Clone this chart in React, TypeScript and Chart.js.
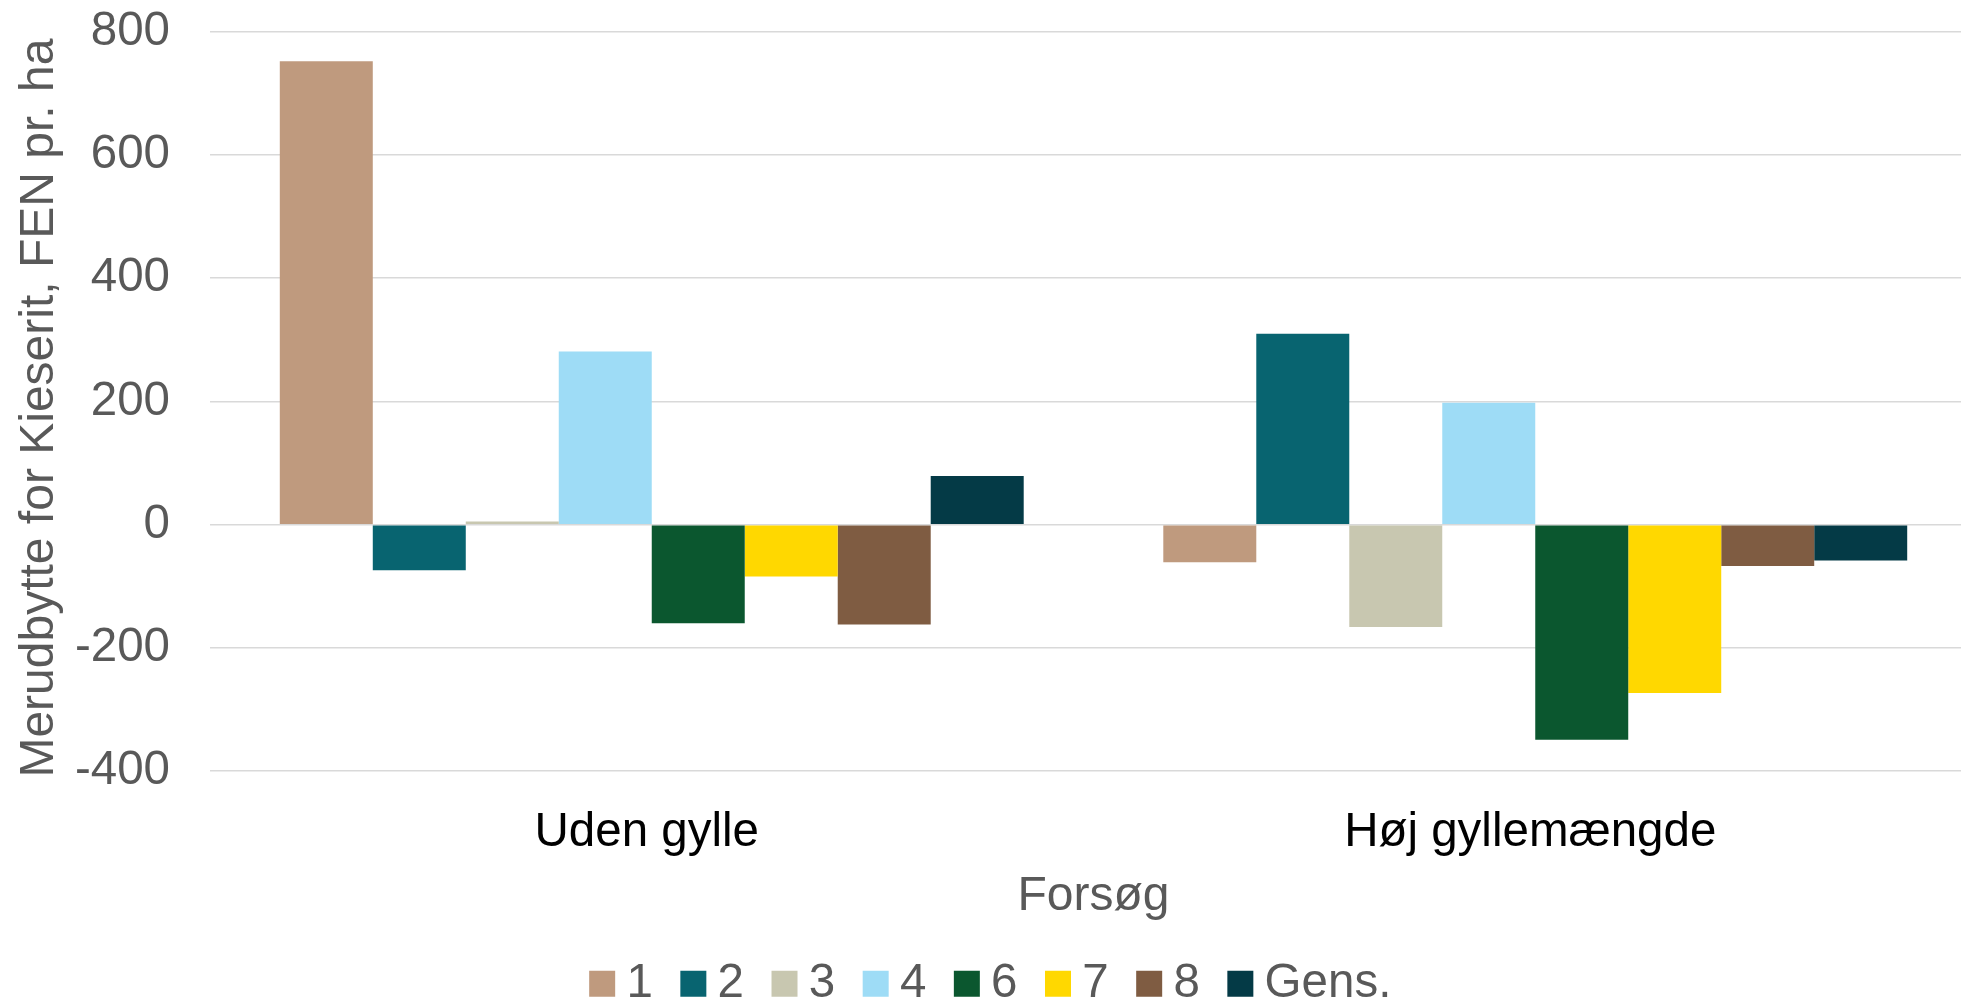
import React, { useEffect, useRef } from "react";
import { Chart, registerables } from "chart.js";

Chart.register(...registerables);

const categories = ["Uden gylle", "Høj gyllemængde"];
const seriesNames = ["1", "2", "3", "4", "6", "7", "8", "Gens."];
const series1 = [752, -61];
const series2 = [-74, 310];
const series3 = [5, -166];
const series4 = [281, 198];
const series6 = [-160, -349];
const series7 = [-84, -273];
const series8 = [-162, -67];
const seriesGens = [79, -58];
const seriesColors = ["#BF9A7E", "#086470", "#C8C7B0", "#9EDCF6", "#0B572F", "#FFD800", "#7F5C42", "#043A46"];
const yTicks = [-400, -200, 0, 200, 400, 600, 800];
const yTitle = "Merudbytte for Kieserit, FEN pr. ha ";
const xTitle = "Forsøg";

const FONT = "'Liberation Sans', Arial, sans-serif";
const CANVAS_W = 1977;
const CANVAS_H = 1004;

export default function App() {
  const ref = useRef<HTMLCanvasElement | null>(null);
  useEffect(() => {
    if (!ref.current) return;
    const values = [series1, series2, series3, series4, series6, series7, series8, seriesGens];
    const shiftLegend = {
      id: "shiftLegend",
      afterLayout(chart: any) {
        if (chart.legend) {
          chart.legend.left += 8;
          chart.legend.right += 8;
        }
      },
    };
    const chart = new Chart(ref.current, {
      type: "bar",
      data: {
        labels: categories,
        datasets: seriesNames.map((name, i) => ({
          label: name,
          data: values[i],
          backgroundColor: seriesColors[i],
          borderWidth: 0,
          categoryPercentage: 0.842,
          barPercentage: 1,
        })),
      },
      options: {
        animation: false,
        responsive: false,
        devicePixelRatio: 1,
        layout: { padding: { top: 31.7, left: 0, right: 0, bottom: 0 } },
        plugins: {
          tooltip: { enabled: false },
          legend: {
            position: "bottom",
            maxHeight: 84,
            labels: {
              usePointStyle: true,
              pointStyle: "rect",
              boxWidth: 1,
              boxHeight: 26,
              padding: 40,
              color: "#595959",
              font: { family: FONT, size: 47.5 },
            },
          },
        },
        scales: {
          x: {
            type: "category",
            offset: true,
            grid: { display: false, drawTicks: false },
            border: { display: false },
            ticks: { color: "#000000", padding: 33, labelOffset: -5, font: { family: FONT, size: 47.5 } },
            title: {
              display: true,
              text: xTitle,
              color: "#595959",
              padding: { top: 0, bottom: -6 },
              font: { family: FONT, size: 48 },
            },
            afterFit: (s: any) => {
              s.height = 148.8;
            },
          },
          y: {
            min: -400,
            max: 800,
            afterBuildTicks: (s: any) => {
              s.ticks = yTicks.map((v) => ({ value: v }));
            },
            grid: { color: "#D9D9D9", lineWidth: 1.5, drawTicks: false },
            border: { display: false },
            ticks: { color: "#595959", padding: 40, font: { family: FONT, size: 47.5 } },
            title: {
              display: true,
              text: yTitle,
              color: "#595959",
              padding: { top: 11.3, bottom: 0 },
              font: { family: FONT, size: 48 },
            },
            afterFit: (s: any) => {
              s.width = 210;
              s.paddingTop = 0;
              s.paddingBottom = 0;
            },
          },
        },
      },
      plugins: [shiftLegend],
    });
    return () => chart.destroy();
  }, []);
  return (
    <div
      style={{
        position: "fixed",
        left: 0,
        top: 0,
        width: 1961,
        height: CANVAS_H,
        overflow: "hidden",
        background: "#ffffff",
      }}
    >
      <canvas ref={ref} width={CANVAS_W} height={CANVAS_H} style={{ display: "block" }} />
    </div>
  );
}
